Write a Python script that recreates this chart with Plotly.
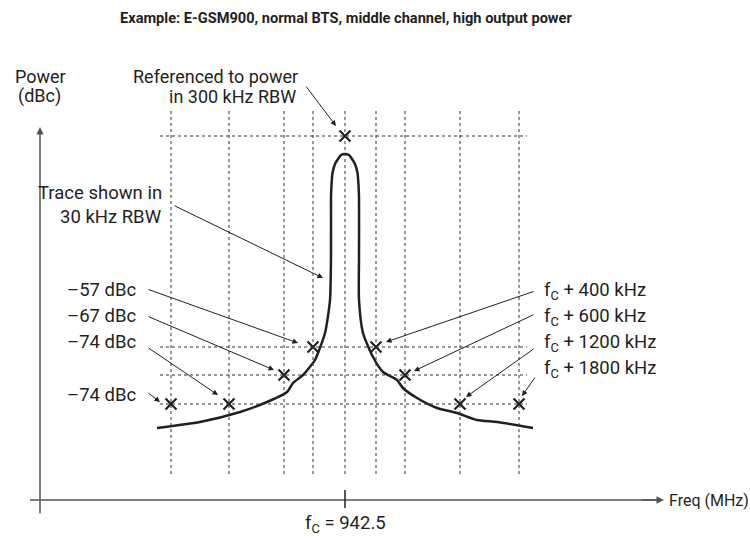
import plotly.graph_objects as go

# ---- schematic data (x: offset from fc in diagram units, y: level in diagram units, 0 = reference) ----
marker_labels = ["-1800", "-1200", "-600", "-400", "ref", "+400", "+600", "+1200", "+1800"]
marker_x = [-174, -116, -61, -32, 0, 31, 60, 115, 174]
marker_y = [-268, -268, -239, -211, 0, -211, -239, -268, -268]

level_lines = [0, -211, -239, -268]          # dotted horizontal reference levels
grid_x = marker_x                              # dotted vertical lines

trace_x = [-188, -145, -105, -78, -58, -52, -42, -36, -30, -20, -15, -14, -14, -13.5, -12.5, -10, -7, -4,
           0, 4, 7, 10, 12.5, 13.5, 14, 14, 14, 18, 28, 38, 52, 58, 72, 92, 112, 132, 152, 188]
trace_y = [-292, -286, -276, -266, -256, -247, -239, -232, -224, -197, -164, -120, -61, -49, -37, -28, -23, -19,
           -18, -19, -23, -28, -37, -49, -61, -120, -164, -197, -221, -236, -244, -252, -262, -272, -277, -284, -286, -292]

# pixel -> data helper (fc at 345px, reference level at 136px)
def P(xp, yp):
    return xp - 345, 136 - yp

FONT = "Roboto, Liberation Sans, sans-serif"
INK = "#231f20"
FS = 18.5

fig = go.Figure()

# dotted grid
shapes = []
for gx in grid_x:
    shapes.append(dict(type="line", xref="x", yref="y", x0=gx, x1=gx, y0=P(0, 111)[1], y1=P(0, 477)[1],
                       line=dict(color="#333333", width=1, dash="dot")))
for ly in level_lines:
    shapes.append(dict(type="line", xref="x", yref="y", x0=P(160, 0)[0], x1=P(527, 0)[0], y0=ly, y1=ly,
                       line=dict(color="#333333", width=1, dash="dot")))
# axes
shapes.append(dict(type="line", xref="x", yref="y", x0=P(30, 500)[0], x1=P(662, 500)[0], y0=P(30, 500)[1], y1=P(30, 500)[1],
                   line=dict(color="#555555", width=1.5)))
shapes.append(dict(type="line", xref="x", yref="y", x0=0, x1=0, y0=P(0, 490)[1], y1=P(0, 508)[1],
                   line=dict(color=INK, width=1.5)))

fig.add_trace(go.Scatter(x=trace_x, y=trace_y, mode="lines",
                         line=dict(color=INK, width=2.5, shape="spline", smoothing=0.6),
                         hoverinfo="skip", showlegend=False))
fig.add_trace(go.Scatter(x=marker_x, y=marker_y, mode="markers", text=marker_labels,
                         marker=dict(symbol="x-thin", size=11, line=dict(color=INK, width=2.2)),
                         showlegend=False))

ann = []
def arrow(t, h, w=1):
    tx, ty = P(*t)
    hx, hy = P(*h)
    ann.append(dict(x=hx, y=hy, ax=tx, ay=ty, xref="x", yref="y", axref="x", ayref="y",
                    text="", showarrow=True, arrowhead=2, arrowsize=1.1, arrowwidth=w, arrowcolor=INK))

def label(text, xp, yp, anchor, size=FS):
    x, y = P(xp, yp)
    ann.append(dict(x=x, y=y, xref="x", yref="y", text=text, showarrow=False, xanchor=anchor,
                    yanchor="middle", font=dict(family=FONT, size=size, color=INK)))

# axis arrows
ann.append(dict(x=P(40, 127)[0], y=P(40, 127)[1], ax=P(40, 515)[0], ay=P(40, 515)[1],
                xref="x", yref="y", axref="x", ayref="y", text="", showarrow=True,
                arrowhead=2, arrowsize=1, arrowwidth=1.5, arrowcolor="#555555"))
ann.append(dict(x=P(664, 500)[0], y=P(664, 500)[1], ax=P(640, 500)[0], ay=P(640, 500)[1],
                xref="x", yref="y", axref="x", ayref="y", text="", showarrow=True,
                arrowhead=2, arrowsize=1, arrowwidth=1.5, arrowcolor="#555555"))

label("Power", 40, 76, "center", 18)
label("(dBc)", 39, 96, "center", 18)
label("Freq (MHz)", 667, 500, "left", 16)
label("f<sub>C</sub> = 942.5", 345, 524, "center")
label("Referenced to power", 300, 76, "right", 18)
label("in 300 kHz RBW", 298, 96, "right", 18)
label("Trace shown in", 164, 193, "right")
label("30 kHz RBW", 164, 217, "right")
label("–57 dBc", 138, 290, "right")
label("–67 dBc", 138, 316, "right")
label("–74 dBc", 138, 342, "right")
label("–74 dBc", 138, 395, "right")
label("f<sub>C</sub> + 400 kHz", 542, 291, "left")
label("f<sub>C</sub> + 600 kHz", 542, 317, "left")
label("f<sub>C</sub> + 1200 kHz", 542, 343, "left")
label("f<sub>C</sub> + 1800 kHz", 542, 369, "left")

arrow((305, 85), (336, 126))
arrow((173, 205), (323, 278))
arrow((147, 289), (298, 343))
arrow((147, 316), (274, 370))
arrow((147, 347), (218, 395))
arrow((147, 392), (160, 402))
arrow((535, 291), (386, 342))
arrow((535, 314), (414, 371))
arrow((535, 348), (466, 397))
arrow((536, 376), (522, 396))

ann.append(dict(x=346 / 750, y=1 - 18 / 540, xref="paper", yref="paper", showarrow=False,
                text="<b>Example: E-GSM900, normal BTS, middle channel, high output power</b>",
                xanchor="center", yanchor="middle", font=dict(family=FONT, size=14.6, color=INK)))

fig.update_layout(
    width=750, height=540, margin=dict(l=0, r=0, t=0, b=0),
    paper_bgcolor="white", plot_bgcolor="white",
    xaxis=dict(range=[P(0, 0)[0], P(750, 0)[0]], visible=False, fixedrange=True),
    yaxis=dict(range=[P(0, 540)[1], P(0, 0)[1]], visible=False, fixedrange=True),
    shapes=shapes, annotations=ann, showlegend=False,
)

fig.write_html("out.html", config={"displayModeBar": False},
               post_script="document.body.style.margin='0';document.body.style.overflow='hidden';")
